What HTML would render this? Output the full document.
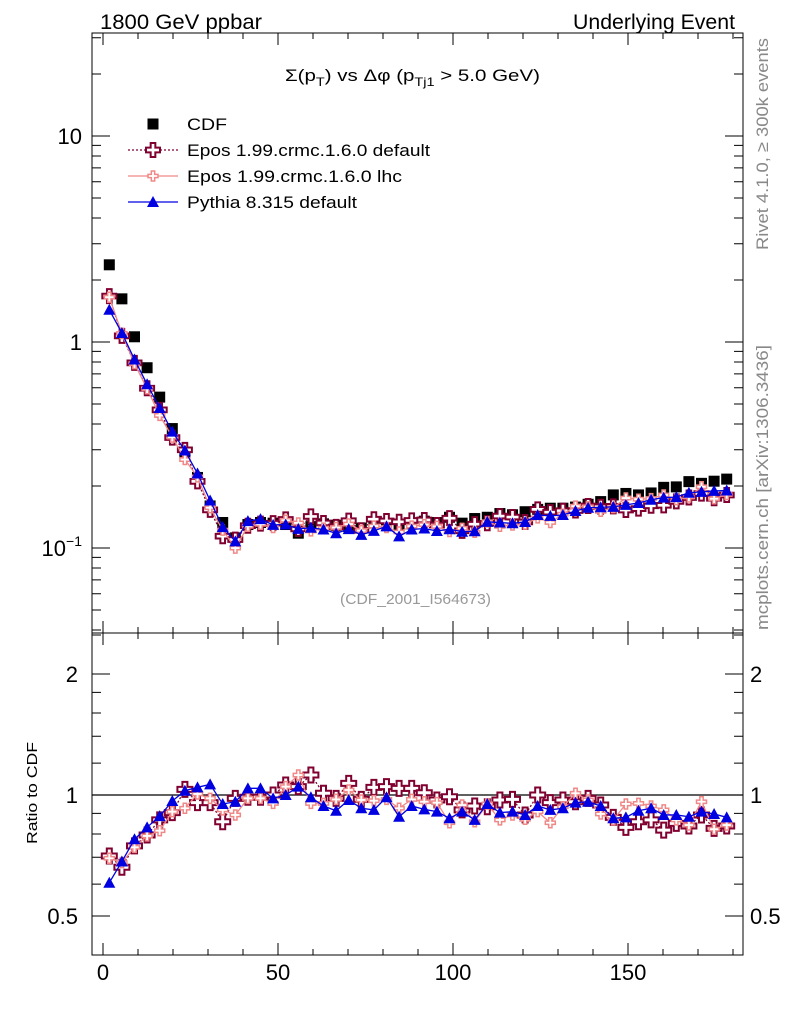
<!DOCTYPE html>
<html><head><meta charset="utf-8"><style>
body{margin:0;background:#fff;}
svg{font-family:"Liberation Sans",sans-serif;}
</style></head><body>
<svg id="c" width="786" height="1024" xmlns="http://www.w3.org/2000/svg">
<rect width="786" height="1024" fill="#fff"/>
<text x="100" y="29" font-size="21" textLength="162" lengthAdjust="spacingAndGlyphs">1800 GeV ppbar</text>
<text x="573" y="29" font-size="21" textLength="162" lengthAdjust="spacingAndGlyphs">Underlying Event</text>
<text x="285" y="81" font-size="17" textLength="255" lengthAdjust="spacingAndGlyphs">Σ(p<tspan font-size="12" dy="5">T</tspan><tspan dy="-5">) vs Δφ (p</tspan><tspan font-size="12" dy="5">Tj1</tspan><tspan dy="-5"> &gt; 5.0 GeV)</tspan></text>
<text x="340" y="604" font-size="15" fill="#999" textLength="151" lengthAdjust="spacingAndGlyphs">(CDF_2001_I564673)</text>
<text transform="translate(768,250) rotate(-90)" font-size="17" fill="#888" textLength="212" lengthAdjust="spacingAndGlyphs">Rivet 4.1.0, ≥ 300k events</text>
<text transform="translate(768,630) rotate(-90)" font-size="17" fill="#888" textLength="285" lengthAdjust="spacingAndGlyphs">mcplots.cern.ch [arXiv:1306.3436]</text>
<text transform="translate(37,844) rotate(-90)" font-size="15" textLength="102" lengthAdjust="spacingAndGlyphs">Ratio to CDF</text>
<g id="axes"></g>
<g id="marks"></g>
<g id="legend"></g>
</svg>
<script>
const xCenters = Array.from({length:50},(_,i)=>1.8+3.6*i);
const cdfValues = [2.37,1.62,1.06,0.75,0.54,0.38,0.29,0.22,0.16,0.133,0.112,0.13,0.133,0.132,0.13,
0.118,0.127,0.131,0.129,0.127,0.125,0.132,0.129,0.129,0.131,0.135,0.133,0.141,0.132,0.139,0.141,0.147,0.145,0.150,0.154,0.156,0.156,0.158,0.163,0.168,0.181,0.184,0.181,0.185,0.197,0.198,0.210,0.206,0.211,0.216];
const eposDefaultRatio = [0.705,0.661,0.747,0.795,0.867,0.904,1.033,0.957,0.957,0.858,0.981,0.987,0.987,1.0,1.059,1.049,1.121,1.01,0.981,1.069,0.975,1.045,1.049,1.039,1.039,1.013,0.972,0.99,0.918,0.939,0.935,0.972,0.975,0.892,1.0,0.957,0.972,0.962,0.981,0.944,0.88,0.831,0.858,0.867,0.818,0.85,0.837,0.892,0.826,0.837];
const eposLhcRatio = [0.696,0.679,0.741,0.791,0.815,0.909,0.927,1.006,0.981,0.918,0.892,0.981,0.981,0.953,1.049,1.121,0.953,0.953,0.975,1.029,0.972,0.968,0.975,0.927,0.975,0.962,0.957,0.853,0.944,0.858,0.95,0.867,0.892,0.87,0.909,0.853,0.935,1.01,0.972,0.897,0.867,0.95,0.953,0.939,0.918,0.867,0.842,0.962,0.822,0.842];
const pythiaRatio = [0.605,0.683,0.776,0.831,0.886,0.966,1.025,1.045,1.063,0.95,0.962,1.039,1.039,0.981,1.0,1.049,0.987,0.939,0.914,0.972,0.927,0.918,0.987,0.883,0.939,0.921,0.909,0.875,0.909,0.867,0.95,0.904,0.909,0.892,0.939,0.918,0.927,0.957,0.962,0.939,0.875,0.88,0.914,0.927,0.892,0.892,0.883,0.909,0.897,0.88];
const xTicks = [0,50,100,150];
const mainTicks = [0.1,1,10];
const ratioTicks = [0.5,1,2];

const NS="http://www.w3.org/2000/svg";
const L=92,R=743,T=33,MB=633,RB=955;
const X=v=>103+3.5*v;
const Ym=v=>342-206*Math.log10(v);
const Yr=v=>795-121*Math.log2(v);
function el(tag,at,parent){const e=document.createElementNS(NS,tag);for(const k in at)e.setAttribute(k,at[k]);parent.appendChild(e);return e;}
const ax=document.getElementById('axes'), mk=document.getElementById('marks'), lg=document.getElementById('legend');

let f1=el('rect',{x:L,y:T,width:R-L,height:MB-T,fill:'none',stroke:'#000','stroke-width':1},ax);


let f2=el('rect',{x:L,y:MB,width:R-L,height:RB-MB,fill:'none',stroke:'#000','stroke-width':1},ax);


let ln=el('line',{x1:L,x2:R,y1:Yr(1),y2:Yr(1),stroke:'#000','stroke-width':1.3},ax);



let tp='';
for(let v=0;v<=180;v+=10){const big=v%50===0;const l=big?12:6;const x=X(v);
 tp+=`M${x},${T}v${l}M${x},${MB}v${-l}M${x},${MB}v${l}M${x},${RB}v${-l}`;}
for(let d=-2;d<=1;d++)for(let m=1;m<10;m++){const v=m*Math.pow(10,d);const y=Ym(v);if(y<T||y>MB)continue;const l=m===1?18:9;
 tp+=`M${L},${y}h${l}M${R},${y}h${-l}`;}
[0.4,0.5,0.6,0.7,0.8,0.9,1,1.2,1.4,1.6,1.8,2,2.5].forEach(v=>{const y=Yr(v);if(y<MB||y>RB)return;const l=(v===0.5||v===1||v===2)?18:9;tp+=`M${L},${y}h${l}M${R},${y}h${-l}`;});
let tk=el('path',{d:tp,stroke:'#000','stroke-width':1,fill:'none'},ax);



xTicks.forEach(v=>{const t=el('text',{x:X(v),y:980,'font-size':22,'text-anchor':'middle'},ax);t.textContent=v;
 
 });
mainTicks.forEach(v=>{const t=el('text',{x:82,y:Ym(v)+8,'font-size':22,'text-anchor':'end'},ax);
 if(v===0.1){t.innerHTML='10<tspan font-size="14" dy="-10">−1</tspan>';}else t.textContent=v;
 
 });
ratioTicks.forEach(v=>{[[78,'end'],[750,'start']].forEach(([x,a])=>{const t=el('text',{x:x,y:Yr(v)+8,'font-size':22,'text-anchor':a},ax);t.textContent=v;
 
 });});

function crossPath(cx,cy,s){const a=s/3,b=s/2;return `M${cx-a/2},${cy-b}h${a}v${b-a/2}h${b-a/2}v${a}h${-(b-a/2)}v${b-a/2}h${-a}v${-(b-a/2)}h${-(b-a/2)}v${-a}h${b-a/2}z`;}
function series(name,vals,Y,opt){
 const g=el('g',{},mk);
 
 
 if(opt.line){const pts=vals.map((v,i)=>X(xCenters[i])+','+Y(v)).join(' ');
  el('polyline',{points:pts,fill:'none',stroke:opt.color,'stroke-width':opt.lw||1.3,'stroke-dasharray':opt.dash||'none'},g);}
 vals.forEach((v,i)=>{const x=X(xCenters[i]),y=Y(v);let m;
  if(opt.type==='sq') m=el('rect',{x:x-5.5,y:y-5.5,width:11,height:11,fill:'#000'},g);
  else if(opt.type==='cross') m=el('path',{d:crossPath(x,y,opt.size),fill:'#fff',stroke:opt.color,'stroke-width':opt.sw||2},g);
  else if(opt.type==='tri') m=el('path',{d:`M${x},${y-6}L${x+6},${y+5}L${x-6},${y+5}z`,fill:opt.color},g);
  
  
 });
}
const eposDefMain=cdfValues.map((v,i)=>v*eposDefaultRatio[i]);
const eposLhcMain=cdfValues.map((v,i)=>v*eposLhcRatio[i]);
const pythiaMain=cdfValues.map((v,i)=>v*pythiaRatio[i]);
const DR='#800030',PK='#f08888',BL='#0000e0';
series('cdf-data',cdfValues,Ym,{type:'sq'});
series('epos-default-main',eposDefMain,Ym,{type:'cross',color:DR,size:14,line:1,dash:'2,2'});
series('epos-lhc-main',eposLhcMain,Ym,{type:'cross',color:PK,size:10,line:1,sw:1.5});
series('pythia-main',pythiaMain,Ym,{type:'tri',color:BL,line:1});
series('epos-default-ratio',eposDefaultRatio,Yr,{type:'cross',color:DR,size:15,line:1,dash:'2,2'});
series('epos-lhc-ratio',eposLhcRatio,Yr,{type:'cross',color:PK,size:10,line:1,sw:1.5});
series('pythia-ratio',pythiaRatio,Yr,{type:'tri',color:BL,line:1});

const entries=[['CDF','sq',40],['Epos 1.99.crmc.1.6.0 default','def',243],['Epos 1.99.crmc.1.6.0 lhc','lhc',215],['Pythia 8.315 default','py',170]];
entries.forEach(([lab,t,w],i)=>{const y=124+i*26;const g=el('g',{},lg);
 
 
 const cx=153;
 if(t==='sq') el('rect',{x:cx-5.5,y:y-5.5,width:11,height:11,fill:'#000'},g);
 if(t==='def'){el('line',{x1:128,x2:178,y1:y,y2:y,stroke:DR,'stroke-width':1.3,'stroke-dasharray':'2,2'},g);el('path',{d:crossPath(cx,y,14),fill:'#fff',stroke:DR,'stroke-width':2},g);}
 if(t==='lhc'){el('line',{x1:128,x2:178,y1:y,y2:y,stroke:PK,'stroke-width':1.3},g);el('path',{d:crossPath(cx,y,10),fill:'#fff',stroke:PK,'stroke-width':1.5},g);}
 if(t==='py'){el('line',{x1:128,x2:178,y1:y,y2:y,stroke:BL,'stroke-width':1.3},g);el('path',{d:`M${cx},${y-6}L${cx+6},${y+5}L${cx-6},${y+5}z`,fill:BL},g);}
 const tx=el('text',{x:187,y:y+6,'font-size':17,textLength:w,lengthAdjust:'spacingAndGlyphs'},g);tx.textContent=lab;
});
</script>
</body></html>
